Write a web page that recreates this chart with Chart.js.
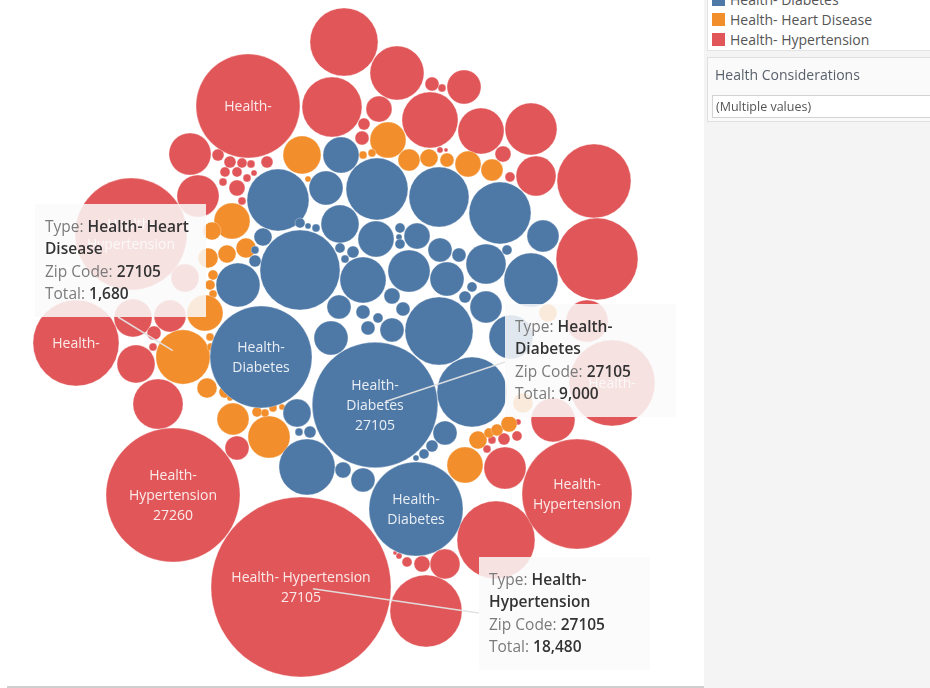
<!DOCTYPE html>
<html>
<head>
<meta charset="utf-8">
<script src="https://cdn.jsdelivr.net/npm/chart.js@4.4.1/dist/chart.umd.min.js"></script>
<style>
html,body{margin:0;padding:0;background:#fff;width:930px;height:688px;overflow:hidden;font-family:"Open Sans",sans-serif}
#wrap{position:absolute;left:0;top:0;width:705px;height:688px}
#bottomline{position:absolute;left:7px;top:686px;width:698px;height:2px;background:#cfcfcf}
.tip{position:absolute;background:rgba(250,250,250,0.85);font-size:15.5px;line-height:22.3px;color:#333;padding:11px 10px 0 10px;box-sizing:border-box;white-space:nowrap;width:171px;height:113px}
.tip .k{color:#7b7b7b}
.tip b{font-weight:600;color:#333}
#panel{position:absolute;left:704px;top:0;width:226px;height:688px;background:#f4f4f4}
#legend{position:absolute;left:3px;top:-10px;width:240px;height:61px;background:#fff;border:1px solid #e3e3e3;box-sizing:border-box}
.li{position:absolute;left:0;height:20px;line-height:20px;font-size:14px;color:#555;white-space:nowrap}
.sw{position:absolute;left:4px;top:3px;width:13px;height:13px}
.li span{position:absolute;left:22px;top:0}
#filter{position:absolute;left:3px;top:57px;width:240px;height:65px;background:#fafafa;border:1px solid #e0e0e0;box-sizing:border-box}
#ftitle{position:absolute;left:7px;top:7px;line-height:20px;font-size:14px;color:#58616b}
#dd{position:absolute;left:4px;top:37px;width:240px;height:23px;background:#fff;border:1px solid #d3d3d3;box-sizing:border-box;font-size:12.5px;line-height:21px;color:#555;padding-left:3px}
</style>
</head>
<body>
<div id="wrap"><canvas id="c"></canvas></div>
<div id="bottomline"></div>
<div id="tips"></div>
<div id="panel">
  <div id="legend"></div>
  <div id="filter"><div id="ftitle">Health Considerations</div><div id="dd">(Multiple values)</div></div>
</div>
<script>
// ---- data ----
const seriesNames = ["Health- Diabetes", "Health- Heart Disease", "Health- Hypertension"];
const seriesColors = ["#4e79a7", "#f28e2b", "#e15759"];

// [x, y, total] — x/y are positions in the packed layout (data units), total drives bubble area
const diabetes = [
  [278,200,2190],[326,188,659],[341,155,739],[377,189,2190],[439,197,2050],[500,213,2190],
  [340,224,823],[300,270,3650],[376,239,739],[400,228,57],[399,237,21],[400,244,57],
  [417,236,385],[543,236,584],[263,237,185],[238,285,1100],[363,280,1210],[409,271,1010],
  [447,279,659],[440,250,328],[459,255,112],[486,264,912],[531,280,1660],[507,250,57],
  [339,307,328],[353,252,82],[340,248,57],[345,259,36],[392,296,146],[403,309,112],
  [363,312,112],[439,331,2640],[486,307,584],[465,297,82],[472,287,57],[255,261,82],
  [255,250,36],[300,223,57],[308,226,21],[316,228,36],[261,357,5930],[375,405,9000],
  [472,392,2790],[511,337,1100],[331,338,659],[392,330,328],[368,328,112],[378,318,57],
  [297,413,447],[299,432,36],[310,432,82],[307,467,1790],[343,470,146],[363,480,328],
  [416,509,5040],[445,433,328],[432,446,82],[424,454,57],[416,458,21]
];
const heartDisease = [
  [302,155,823],[388,140,739],[409,160,276],[429,158,185],[447,160,112],[468,164,385],
  [492,170,276],[363,155,36],[372,153,36],[308,179,21],[232,221,739],[246,248,228],
  [227,254,185],[212,231,185],[208,258,228],[213,275,57],[210,285,57],[213,294,36],
  [205,313,739],[183,357,1680],[207,388,228],[210,337,36],[211,347,36],[225,392,82],
  [230,398,21],[233,419,584],[269,437,1010],[257,412,57],[265,413,36],[273,408,36],
  [282,407,21],[465,465,739],[478,440,185],[489,433,57],[497,430,82],[509,424,146],
  [523,403,228],[548,313,185]
];
const hypertension = [
  [344,42,2640],[397,73,1660],[248,106,6170],[332,107,2050],[432,84,112],[442,88,36],
  [464,87,660],[379,109,385],[430,120,1790],[481,131,1210],[531,129,1540],[594,181,3120],
  [536,176,910],[503,154,146],[510,177,57],[364,124,82],[362,138,112],[440,150,21],
  [446,150,9],[190,154,1010],[198,196,1010],[131,234,7150],
  [218,155,82],[230,162,82],[242,163,57],[251,164,36],[267,162,82],[225,172,57],
  [237,172,57],[247,178,36],[223,182,36],[237,188,146],[242,201,36],[254,173,21],
  [76,343,4220],[136,364,823],[158,404,1430],[133,318,823],[170,316,584],[154,333,112],
  [153,347,36],[185,278,447],
  [173,495,10240],[237,448,328],[301,587,18480],[426,611,2960],[496,540,3470],[577,494,6900],
  [505,468,1010],[445,564,513],[422,564,146],[407,562,57],[399,556,21],[395,553,9],
  [553,420,1100],[612,383,4220],[587,321,1010],[597,259,3830],[492,440,36],[504,439,82],
  [517,436,57],[487,449,36],[518,422,21]
];

// labels drawn inside bubbles: [datasetIndex, pointIndex, lines]
const bubbleLabels = [
  [2, 2, ["Health-"]],
  [2, 21, ["Health-","Hypertension"]],
  [2, 34, ["Health-"]],
  [2, 42, ["Health-","Hypertension","27260"]],
  [2, 44, ["Health- Hypertension","27105"]],
  [2, 47, ["Health-","Hypertension"]],
  [2, 55, ["Health-"]],
  [0, 40, ["Health-","Diabetes"]],
  [0, 41, ["Health-","Diabetes","27105"]],
  [0, 54, ["Health-","Diabetes"]]
];

// tooltips: [datasetIndex, pointIndex, typeLine1, typeLine2, zip, left, top, anchorX, anchorY]
const tooltips = [
  [1, 19, "Health- Heart", "Disease", "27105", 35, 204, 118, 317],
  [0, 41, "Health-", "Diabetes", "27105", 505, 304, 505, 362],
  [2, 44, "Health-", "Hypertension", "27105", 479, 557, 479, 613]
];

const RADIUS_PER_SQRT = 0.662;
const radius = t => RADIUS_PER_SQRT * Math.sqrt(t);
const toPoints = arr => arr.map(([x, y, t]) => ({x, y, r: radius(t), total: t}));
const allSeries = [diabetes, heartDisease, hypertension];

// ---- legend ----
const legend = document.getElementById('legend');
seriesNames.forEach((n, i) => {
  const d = document.createElement('div');
  d.className = 'li';
  d.style.top = (i * 20 - 1) + 'px';
  d.innerHTML = '<div class="sw" style="background:' + seriesColors[i] + '"></div><span>' + n + '</span>';
  legend.appendChild(d);
});

// ---- tooltips ----
const tipsDiv = document.getElementById('tips');
tooltips.forEach(tt => {
  const total = allSeries[tt[0]][tt[1]][2];
  const d = document.createElement('div');
  d.className = 'tip';
  d.style.left = tt[5] + 'px';
  d.style.top = tt[6] + 'px';
  d.innerHTML = '<span class="k">Type: </span><b>' + tt[2] + '</b><br><b>' + tt[3] + '</b><br>' +
    '<span class="k">Zip Code: </span><b>' + tt[4] + '</b><br>' +
    '<span class="k">Total: </span><b>' + total.toLocaleString('en-US') + '</b>';
  tipsDiv.appendChild(d);
});

const overlayPlugin = {
  id: 'overlay',
  afterDatasetsDraw(chart) {
    const ctx = chart.ctx;
    ctx.save();
    ctx.strokeStyle = 'rgba(225,225,225,0.95)';
    ctx.lineWidth = 1.5;
    tooltips.forEach(tt => {
      const el = chart.getDatasetMeta(tt[0]).data[tt[1]];
      const dx = tt[7] - el.x, dy = tt[8] - el.y, len = Math.hypot(dx, dy);
      ctx.beginPath();
      ctx.moveTo(el.x + dx / len * 12, el.y + dy / len * 12);
      ctx.lineTo(tt[7], tt[8]);
      ctx.stroke();
    });
    ctx.font = '14px "Open Sans"';
    ctx.fillStyle = 'rgba(255,255,255,0.88)';
    ctx.textAlign = 'center';
    ctx.textBaseline = 'middle';
    bubbleLabels.forEach(([ds, idx, lines]) => {
      const el = chart.getDatasetMeta(ds).data[idx];
      const lh = 20.3;
      lines.forEach((t, i) => ctx.fillText(t, el.x, el.y + 1 + (i - (lines.length - 1) / 2) * lh));
    });
    ctx.restore();
  }
};

new Chart(document.getElementById('c'), {
  type: 'bubble',
  data: {
    datasets: allSeries.map((s, i) => ({
      label: seriesNames[i],
      data: toPoints(s),
      backgroundColor: seriesColors[i],
      borderColor: 'rgba(255,255,255,0.5)',
      borderWidth: 0.6,
      clip: false
    }))
  },
  options: {
    responsive: true,
    maintainAspectRatio: false,
    animation: false,
    events: [],
    layout: {padding: 0, autoPadding: false},
    plugins: {legend: {display: false}, tooltip: {enabled: false}},
    scales: {
      x: {type: 'linear', min: 0, max: 705, display: false},
      y: {type: 'linear', min: 0, max: 688, reverse: true, display: false}
    }
  },
  plugins: [overlayPlugin]
});
</script>
</body>
</html>
